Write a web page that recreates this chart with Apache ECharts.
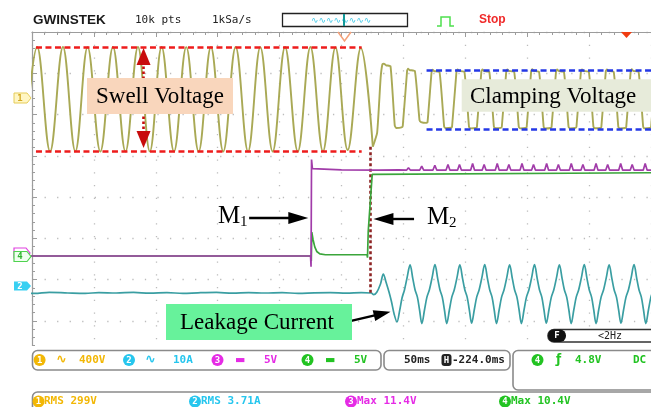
<!DOCTYPE html>
<html><head><meta charset="utf-8">
<script src="https://cdn.jsdelivr.net/npm/echarts@6/dist/echarts.min.js"></script>
<style>html,body{margin:0;padding:0;background:#fff}#c{width:651px;height:407px}</style>
</head><body><div id="c"></div>
<script>
// ================= DATA =================
// time in ms relative to screen centre (50 ms/div)
// CH1 voltage (V), 400 V/div : swell part
const ch1SwellT = [-256.0,-245.8,-235.4,-225.0,-215.0,-205.1,-194.8,-184.6,-174.5,-164.4,-154.8,-145.3,-135.3,-125.4,-115.4,-105.5,-95.5,-85.5,-75.5,-65.6,-55.6,-45.6,-35.3,-25.1,-15.0,-4.9,5.0,15.6,25.3];
const ch1SwellV = [-514,499,-514,500,-513,498,-515,499,-514,500,-513,499,-514,498,-515,500,-514,499,-513,498,-514,499,-514,500,-512,495,-500,490,-467];
// CH1 clamped part
const ch1ClampT = [25.3,28.8,31.6,33.0,34.2,36.0,39.6,43.0,44.2,48.5,49.5,53.0,53.8,55.0,59.3,63.0,64.2,68.5,69.5,
 72.8,73.7,74.8,79.2,82.9,84.0,88.5,89.3,
 92.9,93.8,94.9,99.3,103.0,104.1,108.6,109.4,
 113.0,113.9,115.0,119.4,123.1,124.2,128.7,129.5,
 133.1,134.0,135.1,139.5,143.2,144.3,148.8,149.6,
 153.2,154.1,155.2,159.6,163.3,164.4,168.9,169.7,
 173.3,174.2,175.3,179.7,183.4,184.5,189.0,189.8,
 193.4,194.3,195.4,199.8,203.5,204.6,209.1,209.9,
 213.5,214.4,215.5,219.9,223.6,224.7,229.2,230.0,
 233.6,234.5,235.6,240.0,243.7,244.8,249.3,250.1,
 253.7,254.6];
const ch1ClampV = [-467,-330,200,330,338,322,312,-260,-286,-280,-265,270,288,276,265,-210,-228,-236,-230,
 262,280,266,256,-272,-288,-284,-274,
 265,282,268,258,-275,-290,-286,-275,
 264,281,267,257,-274,-289,-285,-274,
 265,282,268,258,-275,-290,-286,-275,
 266,283,268,258,-276,-291,-286,-275,
 265,282,267,257,-275,-290,-285,-274,
 264,281,268,258,-274,-289,-286,-275,
 265,282,268,258,-275,-290,-286,-275,
 265,283,268,257,-276,-290,-285,-275,
 265,282];
// CH2 leakage current (A), 10 A/div
const ch2T = [-262,-248,-236,-221,-207,-196,-182,-168,-155,-141,-128,-116,-101,-88,-75,-62,-48,-35,-22,-9,4,16,24,
 26.0,28.5,31.5,33.8,36.0,38.2,40.3,42.6,44.8,47.0,48.9,50.9,52.9,55.4,
 57.6,59.4,61.3,63.0,64.9,67.1,69.0,71.0,73.1,75.5,
 77.7,79.5,81.4,83.1,85.0,87.2,89.1,91.1,93.2,95.6,
 97.8,99.6,101.5,103.2,105.1,107.3,109.2,111.2,113.3,115.7,
 117.9,119.7,121.6,123.3,125.2,127.4,129.3,131.3,133.4,135.8,
 138.0,139.8,141.7,143.4,145.3,147.5,149.4,151.4,153.5,155.9,
 158.1,159.9,161.8,163.5,165.4,167.6,169.5,171.5,173.6,176.0,
 178.2,180.0,181.9,183.6,185.5,187.7,189.6,191.6,193.7,196.1,
 198.3,200.1,202.0,203.7,205.6,207.8,209.7,211.7,213.8,216.2,
 218.4,220.2,222.1,223.8,225.7,227.9,229.8,231.8,233.9,236.3,
 238.5,240.3,242.2,243.9,245.8,248.0,249.9,251.9,254.0,256.4];
const ch2A = [0.1,-0.1,0.15,0,-0.1,0.1,0,0.15,-0.05,0.1,-0.1,0.05,0.15,-0.05,0.1,0,0.1,-0.1,0.05,0.1,-0.05,0.1,0,
 -0.4,0.2,2.2,4.6,2.6,0.4,-2.0,-5.2,-7.0,-4.2,-1.2,0.8,3.6,6.8,
 3.5,0.8,-1.0,-4.0,-7.4,-4.0,-1.0,0.8,3.6,6.9,
 3.5,0.8,-1.0,-4.0,-7.4,-4.0,-1.0,0.8,3.6,6.8,
 3.5,0.8,-1.0,-4.0,-7.3,-4.0,-1.0,0.8,3.6,6.9,
 3.5,0.8,-1.0,-4.0,-7.4,-4.0,-1.0,0.8,3.6,6.8,
 3.5,0.8,-1.0,-4.0,-7.4,-4.0,-1.0,0.8,3.6,6.9,
 3.5,0.8,-1.0,-4.0,-7.3,-4.0,-1.0,0.8,3.6,6.8,
 3.5,0.8,-1.0,-4.0,-7.4,-4.0,-1.0,0.8,3.6,6.9,
 3.5,0.8,-1.0,-4.0,-7.4,-4.0,-1.0,0.8,3.6,6.8,
 3.5,0.8,-1.0,-4.0,-7.3,-4.0,-1.0,0.8,3.6,6.9,
 3.5,0.8,-1.0,-4.0,-7.4,-4.0,-1.0,0.8,3.6,6.8];
// CH3 gate signal M1 (V), 5 V/div
const ch3T = [-262,-25.0,-24.6,-24.2,-23.5,-22.3,0,30,46,
 52.5,54.1,55.7, 63.2,64.8,66.4, 73.8,75.4,77.0, 84.4,86.0,87.6, 93.7,95.3,96.9,
 104.3,105.9,107.5, 113.6,115.2,116.8, 124.2,125.8,127.4, 133.6,135.2,136.8, 144.2,145.8,147.4,
 153.5,155.1,156.7, 164.1,165.7,167.3, 173.6,175.2,176.8, 184.0,185.6,187.2, 193.4,195.0,196.6,
 204.0,205.6,207.2, 213.4,215.0,216.6, 223.9,225.5,227.1, 233.2,234.8,236.4, 243.7,245.3,246.9, 253.4,255.0,256.6];
const ch3V = [0,0,-1.3,11.7,10.6,10.4,10.45,10.4,10.45,
 10.4,10.7,10.4, 10.4,10.9,10.4, 10.4,11.0,10.4, 10.4,11.1,10.4, 10.4,11.1,10.4,
 10.4,11.2,10.4, 10.4,11.1,10.4, 10.4,11.2,10.4, 10.4,11.1,10.4, 10.4,11.2,10.4,
 10.4,11.1,10.4, 10.4,11.2,10.4, 10.4,11.1,10.4, 10.4,11.2,10.4, 10.4,11.1,10.4,
 10.4,11.2,10.4, 10.4,11.1,10.4, 10.4,11.2,10.4, 10.4,11.1,10.4, 10.4,11.2,10.4, 10.4,11.1,10.4];
// CH4 gate signal M2 (V), 5 V/div
const ch4T = [-262,-24.8,-24.4,-24.0,-23.0,-21.6,-20.0,-17.5,-13.0,20.6,21.0,21.6,24.8,25.5,262];
const ch4V = [0,0,-0.6,2.9,2.0,1.1,0.55,0.25,0.15,0.15,-0.2,3.0,9.9,10.1,10.1];
// annotation levels
const swellLevels = [499,-514];        // V
const swellSpan = [-246.8,16.3];       // ms
const clampLevels = [276,-299];        // V
const clampSpan = [68.7,250];          // ms
const m2Time = 23.5;                   // ms
// channel settings
const chScale = {ch1:400, ch2:10, ch3:5, ch4:5};
const chGroundPx = {ch1:98.5, ch2:293, ch3:256, ch4:256};

// ================= LAYOUT =================
const GL=32, GT=32, GW=627, GH=330, DY=GH/8, CY=GT+GH/2;
function gDiv(px){return (CY-px)/DY;}
function chAxis(s,gpx){const g=gDiv(gpx);return {type:'value',show:false,min:(-4-g)*s,max:(4-g)*s};}
function zip(a,b){return a.map((v,i)=>[v,b[i]]);}

const chart = echarts.init(document.getElementById('c'));
const TRI=[12,20];
const arrowLine = {color:'#000',width:2.4,type:'solid'};
function seg(p1,p2,ls,sym2,ss2,sym1,ss1){
  return [{coord:p1,lineStyle:ls,symbol:sym1||'none',symbolSize:ss1||1},{coord:p2,symbol:sym2||'none',symbolSize:ss2||1}];
}

const mono='"DejaVu Sans Mono", monospace';
const G=[];
// cover under the graticule
G.push({type:'rect',z:50,shape:{x:0,y:346,width:651,height:61},style:{fill:'#fff'}});
// info bar boxes
G.push({type:'rect',z:51,shape:{x:32.5,y:350.5,width:348.5,height:19.5,r:5},style:{fill:'#fff',stroke:'#8a8a8a',lineWidth:1.6}});
G.push({type:'rect',z:51,shape:{x:384,y:350.5,width:126,height:19.5,r:5},style:{fill:'#fff',stroke:'#8a8a8a',lineWidth:1.6}});
G.push({type:'rect',z:51,shape:{x:513,y:350.5,width:160,height:39.5,r:5},style:{fill:'#fff',stroke:'#8a8a8a',lineWidth:1.6}});
G.push({type:'rect',z:51,shape:{x:32.5,y:392,width:640,height:30,r:5},style:{fill:'#fff',stroke:'#8a8a8a',lineWidth:1.6}});
function badge(cx,cy,col,d,r){
  G.push({type:'circle',z:52,shape:{cx:cx,cy:cy,r:r||6},style:{fill:col}});
  G.push({type:'text',z:53,style:{x:cx,y:cy+0.5,text:d,fill:'#fff',font:'bold 9px '+mono,textAlign:'center',textVerticalAlign:'middle'}});
}
function txt(x,y,t,col,font,align){G.push({type:'text',z:61,style:{x:x,y:y,text:t,fill:col,font:font,textAlign:align||'left',textVerticalAlign:'middle'}});}
const YEL='#f2b705',CYN='#26c6ee',MAG='#e52be5',GRN='#22c322';
const f11='bold 11px '+mono;
badge(39.6,360,YEL,'1'); txt(56,360,'∿',YEL,'bold 13px "DejaVu Sans"'); txt(79,360,'400V',YEL,f11);
badge(129,360,CYN,'2'); txt(145,360,'∿',CYN,'bold 13px "DejaVu Sans"'); txt(173,360,'10A',CYN,f11);
badge(217.5,360,MAG,'3'); txt(235,360,'▬',MAG,'bold 11px "DejaVu Sans"'); txt(264,360,'5V',MAG,f11);
badge(307.5,360,GRN,'4'); txt(325,360,'▬',GRN,'bold 11px "DejaVu Sans"'); txt(354,360,'5V',GRN,f11);
txt(404,360,'50ms','#222',f11);
G.push({type:'rect',z:52,shape:{x:441.5,y:354,width:10,height:12,r:3},style:{fill:'#222'}});
txt(446.5,360.5,'H','#fff','bold 9px '+mono,'center');
txt(452,360,'-224.0ms','#222',f11);
badge(537.5,360,GRN,'4'); txt(556,360,'ƒ',GRN,'bold 12px "DejaVu Sans"'); txt(575,360,'4.8V',GRN,f11); txt(633,360,'DC',GRN,f11);
badge(38.5,401.5,YEL,'1'); txt(44,401.5,'RMS 299V',YEL,f11);
badge(195,401.5,CYN,'2'); txt(201,401.5,'RMS 3.71A',CYN,f11);
badge(351,401.5,MAG,'3'); txt(357,401.5,'Max 11.4V',MAG,f11);
badge(505,401.5,GRN,'4'); txt(511,401.5,'Max 10.4V',GRN,f11);
// F <2Hz box
G.push({type:'rect',z:51,shape:{x:548,y:329.5,width:120,height:12.5,r:6},style:{fill:'#fff',stroke:'#333',lineWidth:1.6}});
G.push({type:'rect',z:52,shape:{x:548,y:329.5,width:18,height:12.5,r:6},style:{fill:'#111'}});
txt(557,336,'F','#fff','bold 9px '+mono,'center');
txt(598,336,'<2Hz','#222','10px '+mono);
// header
txt(33,20,'GWINSTEK','#1a1a1a','bold 13.5px "Liberation Sans"');
txt(135,20,'10k pts','#222','11px '+mono);
txt(212,20,'1kSa/s','#222','11px '+mono);
G.push({type:'rect',z:51,shape:{x:282.5,y:13.5,width:125,height:13},style:{fill:'#fff',stroke:'#222',lineWidth:1.3}});
txt(311,20.5,'∿∿∿∿∿∿∿∿','#3cc8e8','9px "DejaVu Sans"');
G.push({type:'line',z:62,shape:{x1:344,y1:14,x2:344,y2:26},style:{stroke:'#159a9a',lineWidth:2}});
G.push({type:'polyline',z:53,shape:{points:[[437,26],[441,26],[441,17],[450,17],[450,26],[454,26]]},style:{stroke:'#4ee04e',lineWidth:1.5,fill:null}});
txt(479,20,'Stop','#f02a2a','bold 12px "Liberation Sans"');
G.push({type:'polyline',z:53,shape:{points:[[338,32],[344.5,41],[351,32]]},style:{stroke:'#f5a27a',lineWidth:1.5,fill:null}});
G.push({type:'polygon',z:53,shape:{points:[[621,32],[632,32],[626.5,38]]},style:{fill:'#f03c10'}});
// channel ground markers
G.push({type:'polygon',z:53,shape:{points:[[14,93],[27,93],[31,98],[27,103],[14,103]]},style:{fill:'#fff6c4',stroke:'#e6cc58',lineWidth:1}});
txt(20,98.5,'1','#d4a820','bold 9px '+mono,'center');
G.push({type:'polygon',z:52,shape:{points:[[14,248],[26,248],[30,253],[26,258],[14,258]]},style:{fill:'#fff',stroke:'#e040e0',lineWidth:1.2}});
G.push({type:'polygon',z:53,shape:{points:[[14,251.5],[27,251.5],[31,256.5],[27,261.5],[14,261.5]]},style:{fill:'#f0fff0',stroke:'#4fd24f',lineWidth:1.2}});
txt(20,257,'4','#2fb52f','bold 9px '+mono,'center');
G.push({type:'polygon',z:53,shape:{points:[[14,281.5],[27,281.5],[31,286],[27,290.5],[14,290.5]]},style:{fill:'#38d0f2'}});
txt(20,286.5,'2','#fff','bold 9px '+mono,'center');
// annotation labels
G.push({type:'rect',z:60,shape:{x:87,y:78,width:146,height:36},style:{fill:'#f9d6bc'}});
txt(160,97,'Swell Voltage','#000','23px "Liberation Serif"','center');
G.push({type:'rect',z:60,shape:{x:461.7,y:79.3,width:190,height:32.4},style:{fill:'#e7ebda'}});
txt(470,96.5,'Clamping Voltage','#000','23px "Liberation Serif"');
G.push({type:'rect',z:60,shape:{x:166,y:304,width:186,height:36},style:{fill:'#67f29b'}});
txt(180,322.5,'Leakage Current','#000','23px "Liberation Serif"');
txt(218,216,'M','#000','25px "Liberation Serif"'); txt(240,222,'1','#000','15px "Liberation Serif"');
txt(427,217,'M','#000','25px "Liberation Serif"'); txt(449,223,'2','#000','15px "Liberation Serif"');

const lineBase = {type:'line',showSymbol:false,animation:false,xAxisIndex:0,clip:true};
chart.setOption({
  animation:false,
  grid:{left:GL,top:GT,width:GW,height:GH,show:false},
  xAxis:{type:'value',min:-250,max:250,interval:50,position:'top',
    axisLine:{onZero:false,lineStyle:{color:'#9c9c9c',width:1.2}},
    axisTick:{inside:true,length:5,lineStyle:{color:'#9c9c9c'}},
    minorTick:{show:true,splitNumber:5,length:3,lineStyle:{color:'#9c9c9c'}},
    axisLabel:{show:false},
    splitLine:{show:true,lineStyle:{color:'#bcbcbc',width:1.3,type:[1.3,11.45]}}},
  yAxis:[
    {type:'value',min:-4,max:4,interval:1,position:'left',
     axisLine:{show:true,onZero:false,lineStyle:{color:'#9c9c9c',width:1.2}},
     axisTick:{show:true,inside:true,length:5,lineStyle:{color:'#9c9c9c'}},
     minorTick:{show:true,splitNumber:5,length:3,lineStyle:{color:'#9c9c9c'}},
     axisLabel:{show:false},
     splitLine:{show:true,lineStyle:{color:'#bcbcbc',width:1.3,type:[1.3,11.24]}}},
    chAxis(chScale.ch1,chGroundPx.ch1),
    chAxis(chScale.ch2,chGroundPx.ch2),
    chAxis(chScale.ch3,chGroundPx.ch3),
    chAxis(chScale.ch4,chGroundPx.ch4)
  ],
  graphic:G,
  series:[
    Object.assign({},lineBase,{name:'CH1 swell',yAxisIndex:1,z:3,smooth:0.38,data:zip(ch1SwellT,ch1SwellV),
      lineStyle:{color:'#a9a955',width:1.9},
      markLine:{silent:true,symbol:['none','none'],label:{show:false},animation:false,
        data:[
          seg([swellSpan[0],swellLevels[0]],[swellSpan[1],swellLevels[0]],{color:'#ee1c1c',width:2.6,type:[6,3.5]}),
          seg([swellSpan[0],swellLevels[1]],[swellSpan[1],swellLevels[1]],{color:'#ee1c1c',width:2.6,type:[6,3.5]}),
          seg([clampSpan[0],clampLevels[0]],[clampSpan[1],clampLevels[0]],{color:'#2438e6',width:2.6,type:[6,3.5]}),
          seg([clampSpan[0],clampLevels[1]],[clampSpan[1],clampLevels[1]],{color:'#2438e6',width:2.6,type:[6,3.5]})
        ]}}),
    Object.assign({},lineBase,{name:'CH1 clamp',yAxisIndex:1,z:3,smooth:0.15,data:zip(ch1ClampT,ch1ClampV),
      lineStyle:{color:'#a9a955',width:1.9}}),
    Object.assign({},lineBase,{name:'CH2',yAxisIndex:2,z:4,smooth:0.35,data:zip(ch2T,ch2A),
      lineStyle:{color:'#3a9ea2',width:1.7}}),
    Object.assign({},lineBase,{name:'CH4',yAxisIndex:4,z:5,data:zip(ch4T,ch4V),
      lineStyle:{color:'#3ba53b',width:1.7}}),
    Object.assign({},lineBase,{name:'CH3',yAxisIndex:3,z:6,data:zip(ch3T,ch3V),
      lineStyle:{color:'#a13ca9',width:1.7}}),
    Object.assign({},lineBase,{name:'annot',yAxisIndex:0,z:7,data:[],
      markLine:{silent:true,symbol:['none','none'],label:{show:false},animation:false,
        data:[
          seg([m2Time,gDiv(146.7)],[m2Time,gDiv(293)],{color:'#8e2424',width:2.6,type:[3,2.5]}),
          seg([-159.9,gDiv(56.5)],[-159.9,gDiv(139.5)],{color:'#c80c0c',width:2.6,type:[2.5,2.5]},'triangle',[14,17],'triangle',[14,17]),
          seg([-74.6,gDiv(218)],[-34.9,gDiv(218)],arrowLine,'triangle',TRI),
          seg([58.6,gDiv(219)],[33.9,gDiv(219)],arrowLine,'triangle',TRI),
          seg([5.2,gDiv(321.7)],[32.9,gDiv(313.6)],arrowLine,'triangle',[11,17])
        ]}})
  ]
});
</script></body></html>
